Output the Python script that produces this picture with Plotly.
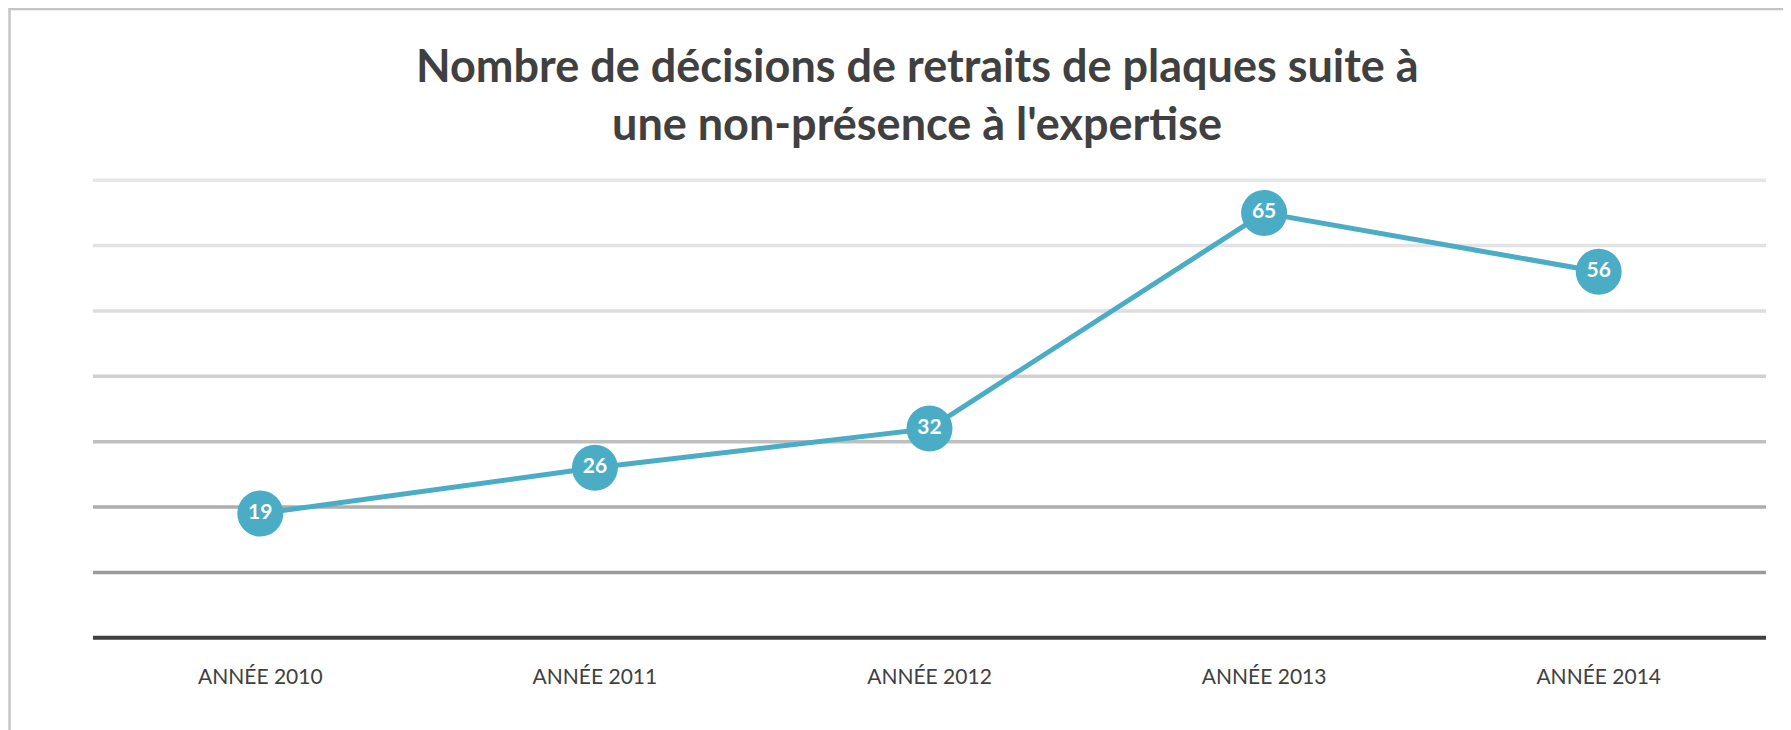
import plotly.graph_objects as go

# ---- data ----
categories = ["ANNÉE 2010", "ANNÉE 2011", "ANNÉE 2012", "ANNÉE 2013", "ANNÉE 2014"]
values = [19, 26, 32, 65, 56]
grid_values = [10, 20, 30, 40, 50, 60, 70]
title_lines = ["Nombre de décisions de retraits de plaques suite à",
               "une non-présence à l'expertise"]

# ---- styles ----
grid_colors = ["#9a9a9a", "#adadad", "#bfbfbf", "#d0d0d0", "#dedede", "#e3e3e3", "#e6e6e6"]
line_color = "#4BACC6"
FONT = "Lato"

W, H = 1791, 730
YPAD = 0.5                      # small range padding so edge gridlines are not clipped
PX_PER_UNIT = (630 - 172) / 70
pad_px = YPAD * PX_PER_UNIT
L, R = 84.5, 33
T, B = 172 - pad_px, 100 - pad_px
pw, ph = W - L - R, H - T - B

def px_to_paper_x(px):
    return (px - L) / pw

def px_to_paper_y(py):
    return (H - B - py) / ph

fig = go.Figure()
fig.add_trace(go.Scatter(
    x=categories, y=values,
    mode="lines+markers+text",
    line=dict(color=line_color, width=5),
    marker=dict(size=46, color=line_color),
    text=[str(v) for v in values],
    textposition="middle center",
    textfont=dict(family=FONT, size=21, color="white", weight="bold"),
    cliponaxis=False,
    hoverinfo="x+y",
))

shapes = []
for gv, gc in zip(grid_values, grid_colors):
    shapes.append(dict(type="line", xref="paper", yref="y", x0=0, x1=1, y0=gv, y1=gv,
                       line=dict(color=gc, width=3.5), layer="below"))
# base axis line
shapes.append(dict(type="line", xref="paper", yref="y", x0=0, x1=1, y0=0, y1=0,
                   line=dict(color="#404040", width=4), layer="below"))
# outer chart border (extends past the right and bottom edges)
shapes.append(dict(type="rect", xref="paper", yref="paper",
                   x0=px_to_paper_x(1), x1=px_to_paper_x(W + 40),
                   y0=px_to_paper_y(H + 40), y1=px_to_paper_y(0.5),
                   line=dict(color="#c4c4c4", width=2.5), fillcolor="rgba(0,0,0,0)", layer="below"))

annotations = []
for i, t in enumerate(title_lines):
    annotations.append(dict(text=t, xref="paper", yref="paper",
                            x=px_to_paper_x(909), y=px_to_paper_y(57 + i * 58),
                            xanchor="center", yanchor="middle", showarrow=False,
                            font=dict(family=FONT, size=45, color="#404040", weight="bold")))

fig.update_layout(
    width=W, height=H,
    margin=dict(l=L, r=R, t=T, b=B, pad=0),
    paper_bgcolor="white", plot_bgcolor="white",
    showlegend=False,
    font=dict(family=FONT, color="#404040"),
    xaxis=dict(type="category", range=[-0.5, 4.5], showgrid=False, zeroline=False,
               showline=False, ticks="outside", ticklen=17, tickcolor="rgba(0,0,0,0)",
               tickfont=dict(family=FONT, size=21, color="#404040")),
    yaxis=dict(range=[-YPAD, 70 + YPAD], showgrid=False, zeroline=False, showline=False,
               showticklabels=False, ticks=""),
    shapes=shapes,
    annotations=annotations,
)

fig.write_html("out.html")
